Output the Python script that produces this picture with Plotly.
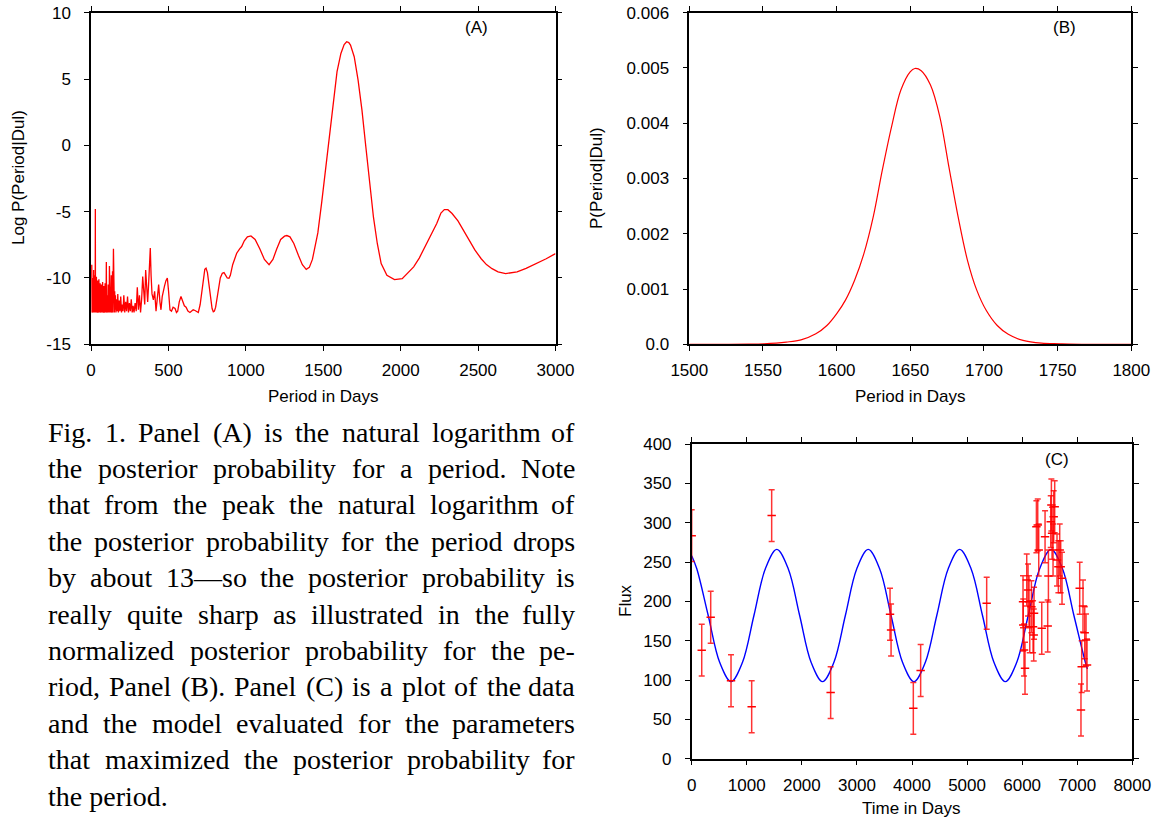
import plotly.graph_objects as go

# ---- Panel A: log posterior vs period ----
period_a = [5, 7, 9, 11, 13, 15, 17, 19, 21, 23, 25, 27, 28, 29, 31, 33, 35, 37, 39, 41,
            43, 45, 47, 49, 51, 53, 55, 57, 59, 61, 63, 65, 67, 69, 71, 73, 75, 77, 79, 81,
            83, 85, 87, 89, 91, 93, 95, 97, 99, 101, 103, 105, 107, 109, 111, 113, 115, 117,
            119, 121, 123, 125, 127, 129, 131, 133, 135, 137, 139, 141, 143, 145, 147, 149,
            151, 153, 155, 158, 161, 165, 169, 173, 177, 182, 187, 192, 197, 202, 207, 212,
            218, 224, 230, 236, 242, 248, 254, 260, 266, 272, 278, 285, 292, 299, 306, 313,
            320, 327, 334, 341, 347, 353, 360, 366, 372, 378, 383, 388, 394, 403, 411, 420,
            428, 437, 445, 452, 460, 467, 475, 484, 493, 501, 510, 520, 530, 543, 552, 560,
            570, 581, 592, 603, 614, 626, 639, 650, 660, 672, 683, 693, 705, 715, 725, 735,
            743, 752, 762, 772, 782, 790, 797, 805, 815, 825, 835, 848, 859, 870, 880, 891,
            900, 915, 930, 941, 960, 973, 990, 1010, 1033, 1060, 1090, 1120, 1150, 1175,
            1200, 1225, 1250, 1265, 1285, 1310, 1340, 1365, 1390, 1410, 1430, 1445, 1465,
            1490, 1502, 1540, 1564, 1589, 1614, 1635, 1651, 1665, 1676, 1700, 1725, 1750,
            1775, 1800, 1824, 1849, 1874, 1911, 1960, 2010, 2050, 2084, 2120, 2158, 2195,
            2233, 2260, 2282, 2305, 2332, 2370, 2406, 2445, 2480, 2520, 2554, 2590, 2629,
            2678, 2720, 2752, 2810, 2876, 2940, 3000]
logp_a = [-9.0, -12.6, -9.2, -12.5, -10.0, -12.6, -9.4, -12.4, -10.3, -12.6, -9.8, -12.5, -4.8,
          -12.6, -10.6, -12.4, -9.9, -12.6, -10.8, -12.5, -10.2, -12.6, -11.0, -12.5, -10.1,
          -12.6, -10.7, -12.4, -10.4, -12.6, -11.1, -12.5, -10.5, -12.6, -10.9, -12.4, -10.3,
          -12.6, -11.2, -12.5, -10.6, -12.6, -11.0, -12.5, -10.4, -12.6, -10.9, -12.4, -8.8,
          -12.6, -10.7, -12.5, -11.3, -12.6, -10.5, -12.4, -11.0, -12.6, -9.1, -12.5, -10.8,
          -12.6, -11.2, -12.4, -9.8, -12.6, -10.6, -12.5, -9.5, -12.6, -10.2, -7.8, -12.5,
          -9.6, -12.6, -11.0, -12.4, -11.3, -12.6, -11.6, -12.5, -11.2, -12.6, -11.7, -12.5,
          -11.4, -12.6, -12.0, -12.5, -11.3, -12.6, -11.8, -12.5, -11.4, -12.6, -11.9, -12.5,
          -11.6, -12.6, -12.1, -12.6, -11.9, -12.5, -10.7, -12.4, -11.3, -12.6, -11.6, -9.9,
          -11.2, -12.0, -9.4, -11.3, -11.8, -10.5, -9.0, -7.75, -9.8, -11.2, -11.65, -11.0,
          -12.5, -11.3, -10.5, -11.8, -12.4, -11.4, -10.9, -10.6, -10.2, -10.0, -11.0, -12.4,
          -12.5, -12.2, -12.3, -12.6, -12.5, -11.8, -11.4, -11.7, -12.1, -12.2, -12.5, -12.6,
          -12.5, -12.4, -12.45, -12.5, -12.6, -12.0, -11.0, -9.9, -9.35, -9.26, -9.6, -10.5,
          -11.6, -12.3, -12.55, -12.5, -12.2, -11.4, -10.6, -10.0, -9.65, -9.6, -9.8, -10.0,
          -10.02, -9.8, -9.0, -8.4, -8.13, -7.8, -7.63, -7.2, -6.9, -6.83, -7.1, -7.8, -8.6,
          -9.0, -8.6, -7.8, -7.1, -6.85, -6.8, -6.9, -7.4, -8.3, -9.0, -9.35, -9.2, -8.6,
          -7.8, -6.6, -4.3, -3.1, 0.9, 3.41, 5.55, 6.93, 7.6, 7.81, 7.75, 7.56, 6.68, 4.92,
          2.66, -0.11, -2.88, -5.39, -7.4, -8.91, -9.79, -10.12, -10.05, -9.6, -9.16, -8.5,
          -7.66, -6.75, -5.9, -5.1, -4.84, -4.85, -5.14, -5.7, -6.4, -7.2, -7.9, -8.55, -8.99,
          -9.3, -9.54, -9.67, -9.62, -9.54, -9.27, -8.91, -8.55, -8.16]

# ---- Panel B: normalized posterior ----
period_b = [1500, 1520, 1540, 1550.7, 1565.8, 1575.8, 1585.9, 1593.4, 1600.2, 1606, 1612.2,
            1618.5, 1624.8, 1631, 1637.3, 1643.6, 1649.9, 1653.1, 1657.4, 1663.7, 1670,
            1676.2, 1682.5, 1688.8, 1695.1, 1701.4, 1709, 1716.5, 1726.5, 1739, 1751.6,
            1770, 1800]
prob_b = [0.0, 0.0, 0.000003, 0.00001, 0.00004, 0.00008, 0.00019, 0.00034, 0.00056, 0.0008,
          0.00116, 0.00164, 0.0023, 0.00315, 0.00394, 0.0046, 0.00493, 0.00499, 0.00495,
          0.00469, 0.00412, 0.00321, 0.0023, 0.00152, 0.00098, 0.00062, 0.00034, 0.00018,
          0.00007, 0.00002, 0.00001, 0.0, 0.0]

# ---- Panel C: data and model ----
time_c = [0, 182, 345, 714, 1089, 1452, 2523, 3601, 3620, 4024, 4157, 5356,
          6016, 6020, 6034, 6052, 6083, 6107, 6125, 6138, 6168, 6198, 6210, 6216, 6259,
          6283, 6301, 6356, 6416, 6464, 6477, 6519, 6531, 6543, 6561, 6573, 6591, 6633,
          6658, 6682, 6700, 6724, 7045, 7068, 7081, 7105, 7136, 7160, 7178]
flux_c = [283.5, 138, 179.7, 99, 66, 309, 84, 183.5, 163.6, 64, 112, 197.5,
          199.6, 170, 138.2, 114.9, 227.1, 214.4, 199.6, 167.8, 193.2, 167.8, 157.2, 184.8,
          294.9, 297.0, 265.3, 165.8, 282.2, 168.7, 232.2, 301.3, 322.5, 286.5, 265.3, 307.6,
          320.3, 252.6, 244.0, 265.3, 244.0, 229.3, 216.6, 62.0, 117.0, 194.0, 160.0, 150.8,
          119.1]
flux_err = 33

model_t = [0, 92.5, 300, 507.5, 715, 922.5, 1130, 1337.5, 1545, 1752.5, 1960, 2167.5, 2375,
           2582.5, 2790, 2997.5, 3205, 3412.5, 3620, 3827.5, 4035, 4242.5, 4450, 4657.5,
           4865, 5072.5, 5280, 5487.5, 5695, 5902.5, 6110, 6317.5, 6525, 6732.5, 6940,
           7147.5, 7185]
model_flux = [258, 241.4, 182, 122.6, 98, 122.6, 182, 241.4, 266, 241.4, 182, 122.6, 98,
              122.6, 182, 241.4, 266, 241.4, 182, 122.6, 98, 122.6, 182, 241.4, 266, 241.4,
              182, 122.6, 98, 122.6, 182, 241.4, 266, 241.4, 182, 122.6, 114]

a_yticks = [-15, -10, -5, 0, 5, 10]
a_ytext = ["-15", "-10", "-5", "0", "5", "10"]

caption = [
    "Fig. 1. Panel (A) is the natural logarithm of",
    "the posterior probability for a period. Note",
    "that from the peak the natural logarithm of",
    "the posterior probability for the period drops",
    "by about 13\u2014so the posterior probability is",
    "really quite sharp as illustrated in the fully",
    "normalized posterior probability for the pe-",
    "riod, Panel (B). Panel (C) is a plot of the data",
    "and the model evaluated for the parameters",
    "that maximized the posterior probability for",
    "the period.",
]

W, H = 1159, 820
SANS = "Liberation Sans, Arial, sans-serif"
SERIF = "Liberation Serif, Times New Roman, serif"


def px_x(v):
    return v / W


def px_y(v):
    return 1 - v / H


fig = go.Figure()
fig.add_trace(go.Scatter(x=period_a, y=logp_a, mode="lines",
                         line=dict(color="#ff0000", width=1.3), xaxis="x", yaxis="y"))
fig.add_trace(go.Scatter(x=period_b, y=prob_b, mode="lines", line_shape="spline",
                         line=dict(color="#ff0000", width=1.2), xaxis="x2", yaxis="y2"))
fig.add_trace(go.Scatter(x=model_t, y=model_flux, mode="lines", line_shape="spline",
                         line=dict(color="#0000ff", width=1.4), xaxis="x3", yaxis="y3"))
fig.add_trace(go.Scatter(x=time_c, y=flux_c, mode="markers",
                         marker=dict(symbol="line-ew", size=6, color="red",
                                     line=dict(color="red", width=1.5)),
                         error_y=dict(type="constant", value=flux_err, color="rgba(255,0,0,0.8)",
                                      thickness=1.5, width=3),
                         xaxis="x3", yaxis="y3"))

axis_style = dict(showline=True, linecolor="black", linewidth=1.5, mirror="ticks",
                  ticks="outside", ticklen=5, tickwidth=1.2, tickcolor="black",
                  showgrid=False, zeroline=False, automargin=False,
                  tickfont=dict(family=SANS, size=17, color="black"))

fig.update_layout(
    template="none",
    width=W, height=H, margin=dict(l=0, r=0, t=0, b=0, pad=0),
    paper_bgcolor="white", plot_bgcolor="white", showlegend=False,
    xaxis=dict(axis_style, domain=[px_x(91), px_x(555.5)], range=[0, 3000],
               tickvals=[0, 500, 1000, 1500, 2000, 2500, 3000], anchor="y",
               ticklabelstandoff=5),
    yaxis=dict(axis_style, domain=[px_y(344.3), px_y(12.7)], range=[-15, 10],
               tickvals=a_yticks, ticktext=a_ytext, anchor="x", ticklabelstandoff=10),
    xaxis2=dict(axis_style, domain=[px_x(689.3), px_x(1131.3)], range=[1500, 1800],
                tickvals=[1500, 1550, 1600, 1650, 1700, 1750, 1800], anchor="y2",
                ticklabelstandoff=5),
    yaxis2=dict(axis_style, domain=[px_y(344.3), px_y(12.7)], range=[0, 0.006],
                tickvals=[0, 0.001, 0.002, 0.003, 0.004, 0.005, 0.006],
                ticktext=["0.0", "0.001", "0.002", "0.003", "0.004", "0.005", "0.006"],
                anchor="x2", ticklabelstandoff=10),
    xaxis3=dict(axis_style, domain=[px_x(691.7), px_x(1132.3)], range=[0, 8000],
                tickvals=list(range(0, 8001, 1000)), anchor="y3", ticklabelstandoff=5),
    yaxis3=dict(axis_style, domain=[px_y(758.7), px_y(444)], range=[0, 400],
                tickvals=list(range(0, 401, 50)), anchor="x3", ticklabelstandoff=10),
)

annos = []


def label(text, x, y, size=17, angle=0):
    annos.append(dict(text=text, x=px_x(x), y=px_y(y), xref="paper", yref="paper",
                      showarrow=False, xanchor="center", yanchor="middle", textangle=angle,
                      font=dict(family=SANS, size=size, color="black")))


label("Period in Days", 323, 396)
label("Period in Days", 910, 396)
label("Time in Days", 911, 808)
label("Log P(Period|Dul)", 19, 178, angle=-90)
label("P(Period|Dul)", 597, 178, angle=-90)
label("Flux", 625, 601, angle=-90)
label("(A)", 476, 27)
label("(B)", 1064, 27)
label("(C)", 1057, 459)

# Times-Roman advance widths (1/1000 em) for the justified caption
TIMES = {"a": 444, "b": 500, "c": 444, "d": 500, "e": 444, "f": 333, "g": 500, "h": 500,
         "i": 278, "j": 278, "k": 500, "l": 278, "m": 778, "n": 500, "o": 500, "p": 500,
         "q": 500, "r": 333, "s": 389, "t": 278, "u": 500, "v": 500, "w": 722, "x": 500,
         "y": 500, "z": 444, "A": 722, "B": 667, "C": 667, "F": 556, "N": 722, "P": 556,
         "1": 500, "3": 500, ".": 250, ",": 250, "(": 333, ")": 333, "-": 333,
         "\u2014": 1000}
FS = 28
LEFT, RIGHT = 47, 576
TOP, STEP = 432, 36.4


def word_w(w):
    return sum(TIMES.get(c, 500) for c in w) * FS / 1000


for i, line in enumerate(caption):
    y = px_y(TOP + i * STEP)
    words = line.split(" ")
    last = i == len(caption) - 1
    if last:
        annos.append(dict(text=line, x=px_x(LEFT), y=y, xref="paper", yref="paper",
                          showarrow=False, xanchor="left", yanchor="middle", borderpad=0,
                          font=dict(family=SERIF, size=FS, color="black")))
        continue
    widths = [word_w(w) for w in words]
    gap = (RIGHT - LEFT - sum(widths)) / (len(words) - 1)
    x = LEFT
    for j, w in enumerate(words):
        if j == len(words) - 1:
            annos.append(dict(text=w, x=px_x(RIGHT), y=y, xref="paper", yref="paper",
                              showarrow=False, xanchor="right", yanchor="middle", borderpad=0,
                              font=dict(family=SERIF, size=FS, color="black")))
        else:
            annos.append(dict(text=w, x=px_x(x), y=y, xref="paper", yref="paper",
                              showarrow=False, xanchor="left", yanchor="middle", borderpad=0,
                              font=dict(family=SERIF, size=FS, color="black")))
        x += widths[j] + gap

fig.update_layout(annotations=annos)

# the page body has a default 8px margin; drop it so the figure fills the window
fig.write_html("out.html", config={"displayModeBar": False},
               post_script="document.body.style.margin='0';")
